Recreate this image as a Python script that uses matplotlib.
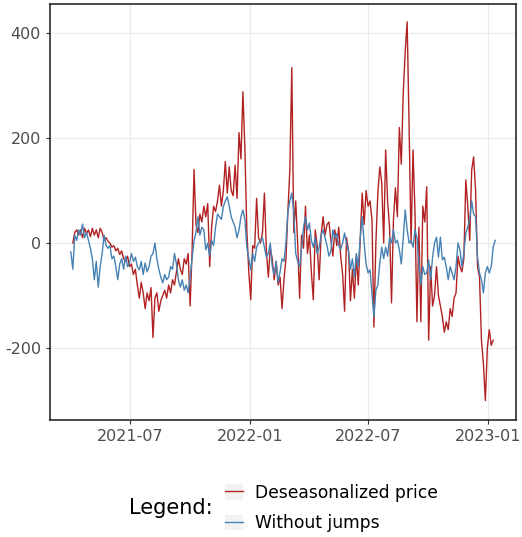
import numpy as np
import pandas as pd
import matplotlib
matplotlib.use("Agg")
import matplotlib.pyplot as plt
import matplotlib.dates as mdates
from matplotlib.patches import Patch
from matplotlib.lines import Line2D

plt.rcParams['axes.unicode_minus'] = False

# one value every 3 days starting 2021-04-01
start_date = "2021-04-01"
step_days = 3

deseasonalized = [
    np.nan, 0, 20, 25, 15, 25, 10, 28, 18, 25,
    12, 28, 15, 25, 10, 28, 20, 5, 10, 3,
    0, -8, -5, -15, -10, -22, -15, -30, -35, -25,
    -45, -40, -60, -50, -80, -105, -75, -95, -125, -95,
    -110, -85, -180, -105, -95, -130, -110, -100, -90, -105,
    -80, -95, -70, -80, -55, -30, -50, -60, -30, -40,
    -20, -120, -15, 140, 35, 20, 55, 40, 70, 50,
    75, -45, 30, 70, 60, 80, 110, 70, 100, 155,
    95, 145, 100, 90, 148, 85, 210, 160, 288, 180,
    25, -55, -108, -5, -10, 85, 10, 0, 20, 95,
    -15, -65, -10, -30, -70, -35, -80, -65, -125, -70,
    -30, 60, 140, 334, 20, 80, 0, -105, 15, -10,
    70, -20, 15, -55, -108, 25, -5, -70, 15, 50,
    15, 35, 40, 5, -25, 25, -5, 30, -25, -60,
    -130, 10, -15, -110, -50, -105, -25, -80, 10, 95,
    35, 100, 70, 80, 45, -160, 0, 95, 145, 115,
    0, 177, 80, 30, -114, 45, 105, 50, 220, 150,
    286, 364, 421, 220, 0, 177, 60, -150, 30, -150,
    70, 40, 107, -185, -45, -120, -100, -45, -100, -120,
    -140, -170, -150, -165, -125, -140, -105, -95, -25, -45,
    -55, -30, 120, 70, 5, 139, 164, 100, -45, -65,
    -185, -230, -300, -200, -165, -195, -185, np.nan,
]

without_jumps = [
    -17, -50, 15, 5, 25, 15, 36, 10, 20, 5,
    -10, -30, -70, -35, -84, -45, -20, 15, -5, -10,
    -5, -30, -25, -45, -70, -40, -30, -50, -25, -45,
    -38, -20, -35, -27, -45, -51, -35, -60, -38, -55,
    -45, -25, -20, 0, -30, -50, -65, -76, -60, -70,
    -65, -45, -50, -20, -40, -70, -84, -70, -90, -80,
    -95, -65, -30, 5, 20, 50, 15, 30, 25, -13,
    0, -25, 5, -5, 30, 55, 50, 45, 69, 80,
    88, 70, 50, 40, 30, 10, 25, 50, 63, 45,
    -8, -30, -51, -20, -35, -8, 0, 5, 10, -8,
    -27, -20, 0, -45, -60, -35, -75, -55, -30, -35,
    0, 60, 80, 95, 60, -20, -35, -45, -10, 30,
    50, 25, 38, 5, -8, 10, -20, -8, 15, 25,
    10, -5, -25, -15, 25, 10, 18, -5, -12, 0,
    19, 0, -15, -50, -30, -65, -20, -45, 10, 50,
    0, -40, -57, -51, -95, -141, -90, -80, -38, -8,
    -30, -8, -25, 10, 0, 25, 0, 5, -13, -40,
    10, 63, 25, 0, 5, -8, 25, 10, -38, -80,
    -45, -60, -57, -32, -70, -27, 0, 11, -27, 11,
    -32, -27, -45, -70, -45, -57, -70, -45, 0, -13,
    -45, -19, 19, 30, 45, 80, 55, 50, -27, -57,
    -70, -95, -57, -45, -57, -45, -8, 5,
]

series_labels = ["Deseasonalized price", "Without jumps"]
series_colors = ["#B22222", "#4682B4"]

dates = pd.date_range(start_date, periods=len(without_jumps), freq=f"{step_days}D")

W, H = 522, 537
fig = plt.figure(figsize=(W / 100, H / 100), dpi=100)
ax = fig.add_axes([50 / W, 1 - 420 / H, (516 - 50) / W, (420 - 4) / H])

ax.plot(dates, deseasonalized, color=series_colors[0], lw=1.0)
ax.plot(dates, without_jumps, color=series_colors[1], lw=1.0)

ax.set_xlim(pd.Timestamp("2021-02-28"), pd.Timestamp("2023-02-13"))
ax.set_ylim(-337, 455)
ax.set_yticks([-200, 0, 200, 400])
ax.xaxis.set_major_locator(mdates.MonthLocator(bymonth=[1, 7]))
ax.xaxis.set_major_formatter(mdates.DateFormatter("%Y-%m"))

ax.grid(True, color="#EBEBEB", lw=0.8)
ax.set_axisbelow(True)
for sp in ax.spines.values():
    sp.set_color("#1A1A1A")
    sp.set_linewidth(1.1)
ax.tick_params(colors="#333333", length=3, width=0.8, labelsize=11.5, labelcolor="#4D4D4D")

handles = [
    (Patch(facecolor="#F2F2F2", edgecolor="none"), Line2D([], [], color=series_colors[0], lw=1.0)),
    (Patch(facecolor="#F2F2F2", edgecolor="none"), Line2D([], [], color=series_colors[1], lw=1.0)),
]
fig.legend(handles, series_labels, loc="center left", bbox_to_anchor=(225 / W, 1 - 508 / H),
           frameon=False, fontsize=12.3, borderpad=0, borderaxespad=0,
           handlelength=1.05, handleheight=1.05, handletextpad=0.72, labelspacing=0.75)
fig.text(213 / W, 1 - 508 / H, "Legend:", ha="right", va="center", fontsize=15)

fig.savefig("out.png", dpi=100)
